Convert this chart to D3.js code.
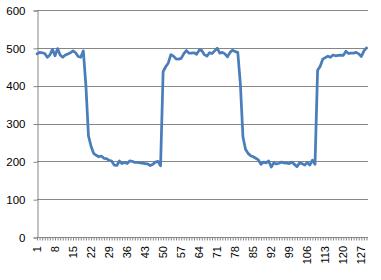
<!DOCTYPE html>
<html>
<head>
<meta charset="utf-8">
<script src="https://cdn.jsdelivr.net/npm/d3@7"></script>
<style>
  body { margin: 0; background: #fff; }
  text { font-family: "Liberation Sans", Arial, sans-serif; fill: #000; }
</style>
</head>
<body>
<div id="chart"></div>
<script>
// one reading per sample, 1..129
var categories = d3.range(1, 130);
var values = [
  484, 488, 487, 485, 475, 481, 496, 479, 498, 481,
  475, 481, 484, 487, 492, 487, 477, 475, 492, 400,
  267, 240, 221, 216, 212, 214, 208, 207, 203, 201,
  190, 189, 201, 194, 197, 194, 201, 200, 197, 197,
  196, 195, 194, 193, 189, 192, 198, 200, 188, 437,
  450, 460, 482, 478, 471, 470, 472, 484, 493, 486,
  486, 487, 483, 494, 493, 482, 478, 487, 485, 492,
  499, 486, 488, 484, 476, 488, 494, 490, 488, 405,
  265, 232, 221, 215, 212, 208, 204, 192, 198, 196,
  201, 185, 196, 193, 195, 198, 196, 195, 194, 198,
  192, 186, 196, 194, 190, 197, 190, 203, 192, 441,
  451, 470, 474, 478, 475, 481, 479, 480, 481, 480,
  491, 485, 486, 486, 488, 484, 477, 492, 500
];
var yTicks = [0, 100, 200, 300, 400, 500, 600];
var xTickLabels = categories.filter(function(d) { return (d - 1) % 7 === 0; });

var width = 381, height = 280;
var plotLeft = 37, plotRight = 366.5, plotTop = 10, plotBottom = 237, gridEnd = 368;

var svg = d3.select("#chart").append("svg")
  .attr("width", width)
  .attr("height", height);

svg.append("rect").attr("width", width).attr("height", height).attr("fill", "#fff");

var x = d3.scalePoint().domain(categories).range([plotLeft, plotRight]);
var y = d3.scaleLinear().domain([0, 600]).range([plotBottom, plotTop]);

// gridlines
svg.append("g")
  .selectAll("line")
  .data(yTicks.filter(function(d) { return d > 0; }))
  .enter().append("line")
  .attr("x1", plotLeft).attr("x2", gridEnd)
  .attr("y1", function(d) { return Math.round(y(d)) + 0.5; })
  .attr("y2", function(d) { return Math.round(y(d)) + 0.5; })
  .attr("stroke", "#868686").attr("stroke-width", 1);

// y axis
var yAxis = svg.append("g")
  .attr("transform", "translate(" + (plotLeft + 0.5) + ",0.5)")
  .call(d3.axisLeft(y).tickValues(yTicks).tickSize(4).tickPadding(8));
yAxis.select(".domain").attr("stroke", "#868686");
yAxis.selectAll(".tick line").attr("stroke", "#868686");
yAxis.selectAll("text").attr("font-size", "11.5px").attr("font-family", "Liberation Sans, Arial, sans-serif").attr("fill", "#000");

// x axis (minor ticks every category)
var xAxis = svg.append("g")
  .attr("transform", "translate(0," + (plotBottom + 0.5) + ")")
  .call(d3.axisBottom(x).tickSize(3).tickFormat(""));
xAxis.select(".domain").attr("stroke", "#868686").attr("d", "M" + plotLeft + ",0H" + gridEnd);
xAxis.selectAll(".tick line").attr("stroke", "#868686");

svg.append("g")
  .selectAll("text")
  .data(xTickLabels)
  .enter().append("text")
  .attr("transform", function(d) {
    return "translate(" + (x(d) + 4) + "," + (plotBottom + 9) + ") rotate(-90)";
  })
  .attr("text-anchor", "end")
  .attr("font-size", "11px")
  .text(function(d) { return d; });

// series line
var line = d3.line()
  .x(function(d, i) { return x(categories[i]); })
  .y(function(d) { return y(d); });

svg.append("path")
  .datum(values)
  .attr("d", line)
  .attr("fill", "none")
  .attr("stroke", "#4a7ebb")
  .attr("stroke-width", 2.75)
  .attr("stroke-linejoin", "round")
  .attr("stroke-linecap", "round");
</script>
</body>
</html>
